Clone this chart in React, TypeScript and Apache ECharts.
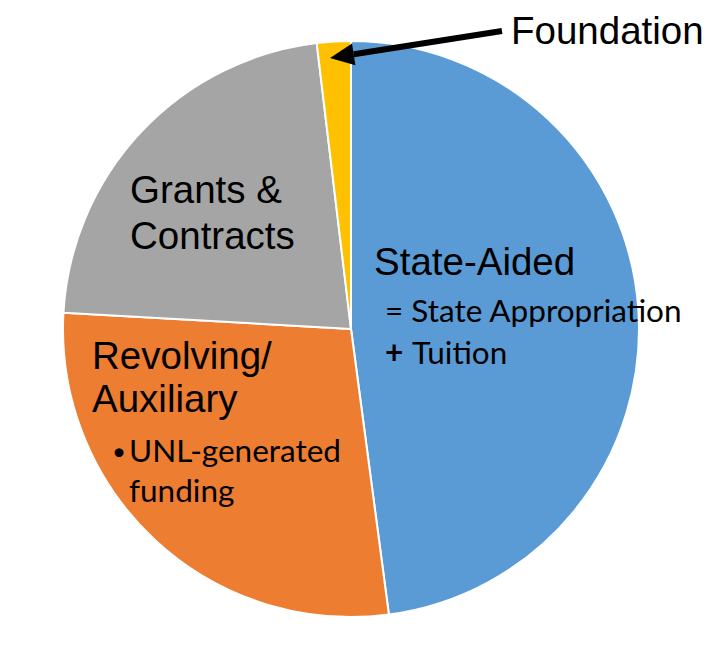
import React, { useEffect, useRef } from "react";
import * as echarts from "echarts";

const categories = ["State-Aided", "Revolving/Auxiliary", "Grants & Contracts", "Foundation"];
const values = [47.9, 28.0, 22.2, 1.9];
const colors = ["#5B9BD5", "#ED7D31", "#A5A5A5", "#FFC000"];

export default function App() {
  const ref = useRef<HTMLDivElement>(null);
  useEffect(() => {
    if (!ref.current) return;
    const chart = echarts.init(ref.current, null, { renderer: "svg" });
    const big = { fontFamily: "Liberation Sans, Arial, sans-serif", fontSize: 38.5, fill: "#000" };
    const small = { fontFamily: "Lato, sans-serif", fontSize: 31.5, fill: "#000" };
    const t = (text: string, x: number, y: number, style: any) => ({
      type: "text",
      x,
      y,
      style: { text, ...style, textAlign: "left", textVerticalAlign: "middle" },
      z: 10,
    });
    // arrow geometry
    const tip = [330, 58];
    const start = [502, 31];
    const dx = start[0] - tip[0];
    const dy = start[1] - tip[1];
    const len = Math.sqrt(dx * dx + dy * dy);
    const ux = dx / len;
    const uy = dy / len;
    const bx = tip[0] + ux * 24;
    const by = tip[1] + uy * 24;
    const px = -uy;
    const py = ux;
    chart.setOption({
      animation: false,
      backgroundColor: "#fff",
      series: [
        {
          type: "pie",
          center: [351, 329],
          radius: 288,
          startAngle: 90,
          clockwise: true,
          label: { show: false },
          labelLine: { show: false },
          itemStyle: { borderColor: "#fff", borderWidth: 2 },
          data: categories.map((name, i) => ({
            name,
            value: values[i],
            itemStyle: { color: colors[i] },
          })),
        },
      ],
      graphic: [
        t("Foundation", 511, 30, big),
        t("Grants &", 130, 189, big),
        t("Contracts", 130, 235, big),
        t("State-Aided", 374, 261, big),
        t("= State Appropriation", 385, 310, small),
        t("+", 385, 352, { ...small, fontWeight: "bold" }),
        t("Tuition", 412, 352, small),
        t("Revolving/", 92, 355, big),
        t("Auxiliary", 92, 398, big),
        t("•", 112, 450, { ...small, fontSize: 24 }),
        t("UNL-generated", 129, 450, small),
        t("funding", 129, 490, small),
        {
          type: "line",
          shape: { x1: start[0], y1: start[1], x2: bx, y2: by },
          style: { stroke: "#000", lineWidth: 6 },
          z: 10,
        },
        {
          type: "polygon",
          shape: {
            points: [
              [tip[0], tip[1]],
              [bx + px * 11, by + py * 11],
              [bx - px * 11, by - py * 11],
            ],
          },
          style: { fill: "#000" },
          z: 10,
        },
      ],
    });
    return () => chart.dispose();
  }, []);
  return (
    <div
      ref={ref}
      style={{ position: "fixed", left: 0, top: 0, width: 720, height: 669 }}
    />
  );
}
